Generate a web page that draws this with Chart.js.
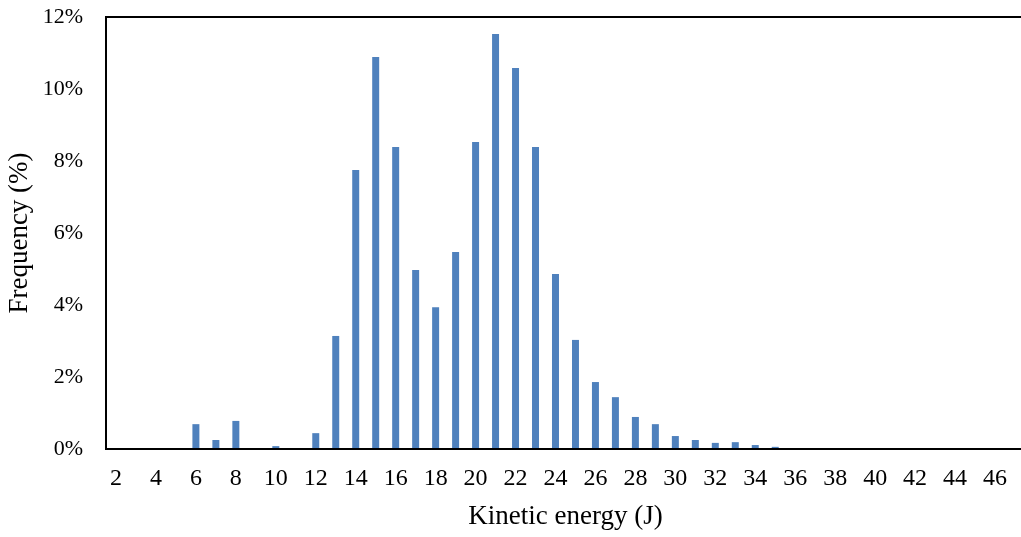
<!DOCTYPE html>
<html>
<head>
<meta charset="utf-8">
<script src="https://cdn.jsdelivr.net/npm/chart.js@4"></script>
<style>
  html, body { margin: 0; padding: 0; background: #fff; overflow: hidden; }
  #wrap { width: 1030px; height: 537px; }
</style>
</head>
<body>
<div id="wrap"><canvas id="hist"></canvas></div>
<script>
// kinetic energy bins (J)
const energies = [2,3,4,5,6,7,8,9,10,11,12,13,14,15,16,17,18,19,20,21,22,23,24,25,26,27,28,29,30,31,32,33,34,35,36,37,38,39,40,41,42,43,44,45,46,47];
// frequency in %
const frequency = [0,0,0,0,0.69,0.25,0.78,0,0.08,0,0.44,3.14,7.75,10.89,8.39,4.97,3.94,5.47,8.53,11.53,10.58,8.39,4.86,3.03,1.86,1.44,0.89,0.69,0.36,0.25,0.17,0.19,0.11,0.06,0.02,0.01,0,0,0,0,0,0,0,0,0,0];
const yTicks = [0,2,4,6,8,10,12];

const serif = "'Liberation Serif', 'Times New Roman', serif";

// frame around the plot area
const frame = {
  id: 'frame',
  afterDraw(chart) {
    const a = chart.chartArea, c = chart.ctx;
    c.save();
    c.strokeStyle = '#000';
    c.lineWidth = 2;
    c.strokeRect(a.left, a.top, a.right - a.left, a.bottom - a.top);
    c.restore();
  }
};

new Chart(document.getElementById('hist'), {
  type: 'bar',
  data: {
    labels: energies,
    datasets: [{
      label: 'Frequency',
      data: frequency,
      backgroundColor: '#4f81bd',
      barPercentage: 0.7,
      categoryPercentage: 0.5
    }]
  },
  options: {
    responsive: true,
    maintainAspectRatio: false,
    animation: false,
    layout: { padding: { top: 0, right: 3, left: 0, bottom: 4 } },
    plugins: { legend: { display: false }, tooltip: { enabled: false } },
    scales: {
      x: {
        grid: { display: false, drawTicks: false },
        border: { display: false },
        afterFit: s => { s.height = 84; },
        ticks: {
          autoSkip: false, maxRotation: 0, padding: 15, color: '#000',
          font: { family: serif, size: 24 },
          callback: (v, i) => (i % 2 === 0 ? energies[i] : '')
        },
        title: { display: true, text: 'Kinetic energy (J)', color: '#000', font: { family: serif, size: 27 }, padding: { top: 6, bottom: 0 } }
      },
      y: {
        min: 0, max: 12,
        grid: { display: false, drawTicks: false },
        border: { display: false },
        afterBuildTicks: s => { s.ticks = yTicks.map(v => ({ value: v })); },
        afterFit: s => { s.width = 106; s.paddingTop = 17; s.paddingBottom = 0; },
        ticks: { padding: 23, color: '#000', font: { family: serif, size: 22 }, callback: v => v + '%' },
        title: { display: true, text: 'Frequency (%)', color: '#000', font: { family: serif, size: 27 }, padding: { top: 4, bottom: 0 } }
      }
    }
  },
  plugins: [frame]
});
</script>
</body>
</html>
